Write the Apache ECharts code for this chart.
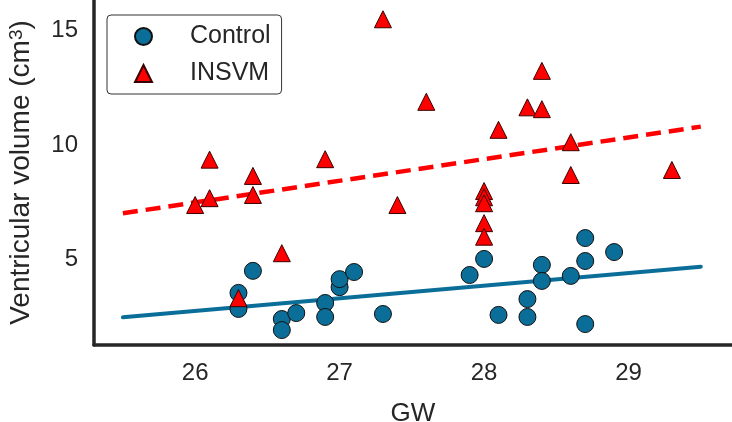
<!DOCTYPE html>
<html>
<head>
<meta charset="utf-8">
<script src="https://cdn.jsdelivr.net/npm/echarts@6/dist/echarts.min.js"></script>
<style>
  html, body { margin: 0; padding: 0; background: #fff; }
  #chart { width: 732px; height: 422px; }
</style>
</head>
<body>
<div id="chart"></div>
<script>
// ---- data ----
const xTicks = [26, 27, 28, 29];
const yTicks = [5, 10, 15];

const controlGW  = [26.3, 26.3, 26.4, 26.6, 26.6, 26.7, 26.9, 26.9, 27.0, 27.0, 27.1, 27.3, 27.9, 28.0, 28.1, 28.3, 28.3, 28.4, 28.4, 28.6, 28.7, 28.7, 28.7, 28.9];
const controlVol = [3.55, 2.85, 4.51, 2.41, 1.93, 2.67, 3.11, 2.50, 3.80, 4.15, 4.46, 2.63, 4.33, 5.03, 2.59, 3.28, 2.50, 4.77, 4.07, 4.29, 5.94, 4.94, 2.19, 5.33];

const insvmGW  = [26.0, 26.1, 26.1, 26.3, 26.4, 26.4, 26.6, 26.9, 27.3, 27.4, 27.6, 28.0, 28.0, 28.0, 28.0, 28.0, 28.1, 28.3, 28.4, 28.4, 28.6, 28.6, 29.3];
const insvmVol = [7.38, 9.36, 7.68, 3.32, 8.65, 7.82, 5.28, 9.38, 15.48, 7.38, 11.88, 7.99, 7.72, 7.46, 6.59, 6.00, 10.66, 11.64, 13.23, 11.56, 10.12, 8.69, 8.91];

const fitGW      = [25.5, 29.5];
const controlFit = [2.49, 4.69];
const insvmFit   = [7.02, 10.80];

const zip = (a, b) => a.map((v, i) => [v, b[i]]);

const FONT = '"Liberation Sans", Arial, Helvetica, sans-serif';
const INK = '#262626';
const BLUE = '#0b6e99';
const RED = '#ff0000';

const chart = echarts.init(document.getElementById('chart'), null, { renderer: 'canvas' });
chart.setOption({
  animation: false,
  backgroundColor: '#ffffff',
  textStyle: { fontFamily: FONT },
  grid: { left: 94, right: 0, top: 0, bottom: 77, containLabel: false, outerBoundsMode: 'none' },
  xAxis: {
    type: 'value',
    min: 25.3, max: 29.716,
    name: 'GW',
    nameLocation: 'middle',
    nameGap: 56,
    nameTextStyle: { fontSize: 26, color: INK, fontFamily: FONT },
    axisLine: { show: true, onZero: false, lineStyle: { color: INK, width: 3.5 } },
    axisTick: { show: false },
    splitLine: { show: false },
    axisLabel: { customValues: xTicks, fontSize: 24, color: INK, margin: 16, fontFamily: FONT }
  },
  yAxis: {
    type: 'value',
    min: 1.278, max: 16.32,
    name: 'Ventricular volume (cm{s|3})',
    nameLocation: 'middle',
    nameGap: 58,
    nameRotate: 90,
    nameTextStyle: {
      fontSize: 28, color: INK, fontFamily: FONT,
      rich: { s: { fontSize: 19, color: INK, fontFamily: FONT, verticalAlign: 'top', padding: [0, 0, 10, 0] } }
    },
    axisLine: { show: true, onZero: false, lineStyle: { color: INK, width: 3.5 } },
    axisTick: { show: false },
    splitLine: { show: false },
    axisLabel: { customValues: yTicks, fontSize: 24, color: INK, margin: 16, fontFamily: FONT }
  },
  legend: {
    orient: 'vertical',
    left: 107, top: 15,
    data: ['Control', 'INSVM'],
    itemWidth: 17, itemHeight: 17,
    itemGap: 12,
    padding: [9, 11, 8, 27],
    backgroundColor: '#ffffff',
    borderColor: '#333333',
    borderWidth: 1,
    borderRadius: 4,
    textStyle: { fontSize: 25, color: INK, fontFamily: FONT, padding: [0, 0, 0, 33] }
  },
  series: [
    {
      name: 'Control fit', type: 'line', data: zip(fitGW, controlFit),
      showSymbol: false, symbol: 'none', z: 1,
      lineStyle: { color: BLUE, width: 4, cap: 'round' }
    },
    {
      name: 'INSVM fit', type: 'line', data: zip(fitGW, insvmFit),
      showSymbol: false, symbol: 'none', z: 1,
      lineStyle: { color: RED, width: 4.5, type: [15, 8], cap: 'butt' }
    },
    {
      name: 'Control', type: 'scatter', data: zip(controlGW, controlVol),
      symbol: 'circle', symbolSize: 17, z: 3,
      itemStyle: { color: BLUE, borderColor: '#111', borderWidth: 1, opacity: 1 }
    },
    {
      name: 'INSVM', type: 'scatter', data: zip(insvmGW, insvmVol),
      symbol: 'triangle', symbolSize: 17, z: 4,
      itemStyle: { color: RED, borderColor: '#3a0000', borderWidth: 1, opacity: 1 }
    }
  ]
});
</script>
</body>
</html>
